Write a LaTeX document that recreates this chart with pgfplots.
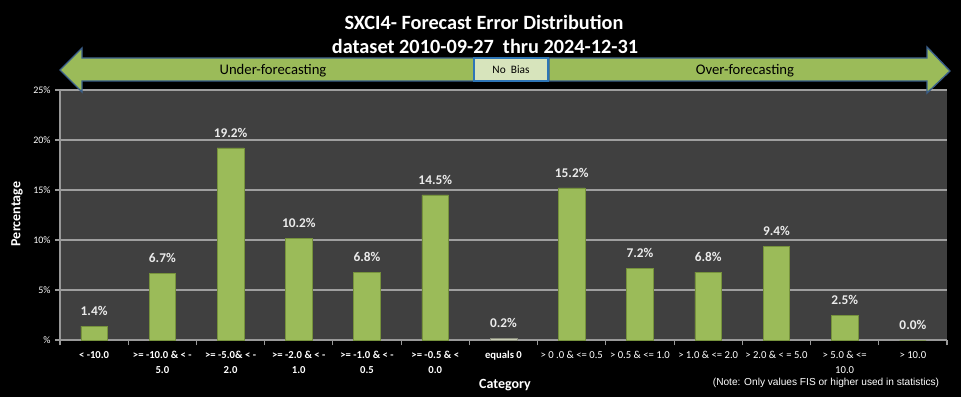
\documentclass[border=0pt]{standalone}
\usepackage{fontspec}
\setmainfont{Carlito}
\newfontfamily\notefont{Liberation Sans}
\usepackage{pgfplots}
\pgfplotsset{compat=1.18}
\definecolor{bargreen}{HTML}{9BBB59}
\definecolor{bardark}{HTML}{76923C}
\definecolor{plotbg}{HTML}{404040}
\definecolor{arrowedge}{HTML}{3A5F8B}
\definecolor{nobiasfill}{HTML}{D7E4BC}
\definecolor{nobiasedge}{HTML}{2E75B6}
\definecolor{zerobar}{HTML}{C8CCB4}
\begin{document}
\begin{tikzpicture}
\fill[black] (0,0) rectangle (720.75pt,297.75pt);
\begin{axis}[
  at={(45pt,42.75pt)}, anchor=south west,
  scale only axis, width=665.25pt, height=187.5pt,
  axis background/.style={fill=plotbg},
  xmin=-0.5, xmax=12.5, ymin=0, ymax=25,
  axis x line*=bottom, axis y line*=left,
  axis line style={draw=gray!80, line width=0.8pt},
  ybar, bar width=20pt, bar shift=0pt,
  /pgf/number format/assume math mode=true,
  xtick={0,...,12},
  xticklabels={{< -10.0},{>= -10.0 \& < -\\5.0},{>= -5.0\& < -\\2.0},{>= -2.0 \& < -\\1.0},{>= -1.0 \& < -\\0.5},{>= -0.5 \& <\\0.0},{equals 0},{\mdseries > 0 .0 \& <= 0.5},{\mdseries > 0.5 \& <= 1.0},{\mdseries > 1.0 \& <= 2.0},{\mdseries > 2.0 \& < = 5.0},{\mdseries > 5.0 \& <=\\\mdseries 10.0},{\mdseries > 10.0}},
  x tick label style={font=\bfseries\fontsize{8}{11}\selectfont, text=white, align=center, yshift=-1.5pt},
  minor xtick={-0.5,0.5,...,12.5},
  major x tick style={draw=none},
  minor x tick style={draw=gray!80, line width=0.8pt},
  minor tick length=4pt,
  tick align=outside,
  ytick={0,5,...,25},
  yticklabels={\%,5\%,10\%,15\%,20\%,25\%},
  y tick label style={font=\fontsize{7.5}{8}\selectfont, text=white},
  major y tick style={draw=gray!80, line width=0.8pt},
  major tick length=3.5pt,
  ymajorgrids, grid style={draw=gray!75, line width=0.8pt},
  nodes near coords={\pgfmathprintnumber[fixed,precision=1,fixed zerofill]{\pgfplotspointmeta}\%},
  every node near coord/.append style={font=\bfseries\fontsize{10}{11}\selectfont, text=white!92!black, anchor=south, yshift=4pt},
  clip=false,
]
\addplot[fill=bargreen, draw=bardark, line width=0.4pt] coordinates {
(0,1.4) (1,6.7) (2,19.2) (3,10.2) (4,6.8) (5,14.5) (7,15.2) (8,7.2) (9,6.8) (10,9.4) (11,2.5) (12,0.0)};
\addplot[fill=zerobar, draw=zerobar!70!black, line width=0.4pt] coordinates {(6,0.2)};
\end{axis}
\begin{scope}[x=0.75pt,y=-0.75pt,yshift=297.75pt]
% title
\node[text=white, font=\bfseries\fontsize{15.2}{17}\selectfont] at (484,22) {SXCI4- Forecast Error Distribution};
\node[text=white, font=\bfseries\fontsize{15.2}{17}\selectfont] at (485,46) {dataset 2010-09-27\ \ thru 2024-12-31};
% arrows
\filldraw[fill=bargreen, draw=arrowedge, line width=1pt] (60,70) -- (82,48) -- (82,58) -- (474,58) -- (474,81) -- (82,81) -- (82,92) -- cycle;
\filldraw[fill=bargreen, draw=arrowedge, line width=1pt] (950,71) -- (927,47) -- (927,58) -- (549,58) -- (549,81) -- (927,81) -- (927,93) -- cycle;
\filldraw[fill=nobiasfill, draw=nobiasedge, line width=1.2pt] (474,58) rectangle (548,81);
\node[font=\fontsize{11}{12}\selectfont] at (273,71) {Under-forecasting};
\node[font=\fontsize{11}{12}\selectfont] at (745,71) {Over-forecasting};
\node[font=\fontsize{8.5}{9}\selectfont] at (511,70) {No\ \ Bias};
% axis titles
\node[text=white, font=\bfseries\fontsize{10.5}{12}\selectfont, rotate=90] at (17,214) {Percentage};
\node[text=white, font=\bfseries\fontsize{10.5}{12}\selectfont] at (505,385) {Category};
\node[text=white, font=\notefont\fontsize{7.6}{9}\selectfont] at (826,383) {(Note: Only values FIS or higher used in statistics)};
\end{scope}
\end{tikzpicture}
\end{document}
